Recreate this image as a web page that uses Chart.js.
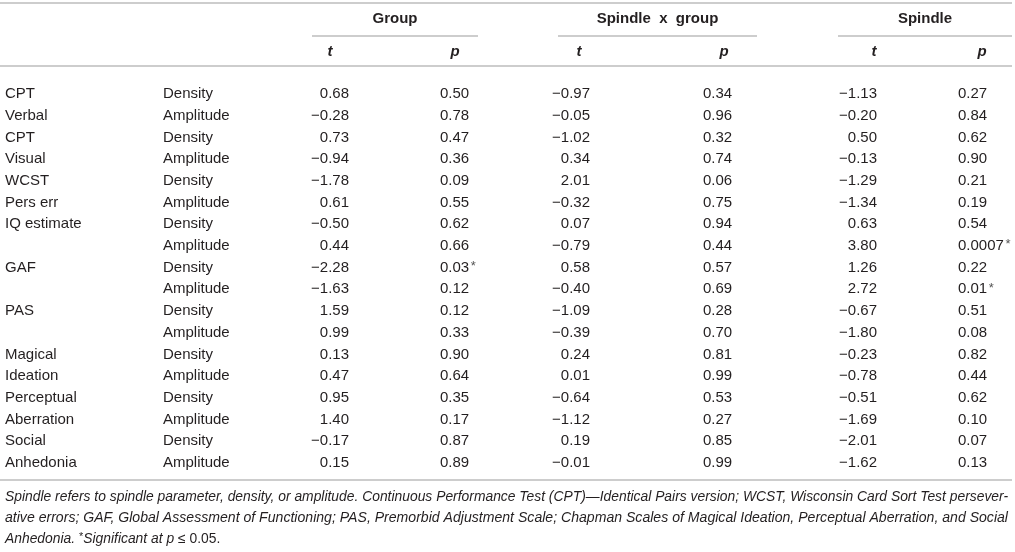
<!DOCTYPE html>
<html>
<head>
<meta charset="utf-8">
<script src="https://cdn.jsdelivr.net/npm/chart.js@4.4.1/dist/chart.umd.min.js"></script>
<style>
  html, body { margin: 0; padding: 0; background: #fff; }
  #wrap { width: 1015px; height: 552px; position: relative; }
</style>
</head>
<body>
<div id="wrap"><canvas id="c"></canvas></div>
<script>
// ---------- DATA ----------
const measures = ["CPT", "Verbal", "CPT", "Visual", "WCST", "Pers err", "IQ estimate", "", "GAF", "", "PAS", "", "Magical", "Ideation", "Perceptual", "Aberration", "Social", "Anhedonia"];
const spindleParam = ["Density", "Amplitude", "Density", "Amplitude", "Density", "Amplitude", "Density", "Amplitude", "Density", "Amplitude", "Density", "Amplitude", "Density", "Amplitude", "Density", "Amplitude", "Density", "Amplitude"];
const groupT = [0.68, -0.28, 0.73, -0.94, -1.78, 0.61, -0.50, 0.44, -2.28, -1.63, 1.59, 0.99, 0.13, 0.47, 0.95, 1.40, -0.17, 0.15];
const groupP = [0.50, 0.78, 0.47, 0.36, 0.09, 0.55, 0.62, 0.66, 0.03, 0.12, 0.12, 0.33, 0.90, 0.64, 0.35, 0.17, 0.87, 0.89];
const sxgT = [-0.97, -0.05, -1.02, 0.34, 2.01, -0.32, 0.07, -0.79, 0.58, -0.40, -1.09, -0.39, 0.24, 0.01, -0.64, -1.12, 0.19, -0.01];
const sxgP = [0.34, 0.96, 0.32, 0.74, 0.06, 0.75, 0.94, 0.44, 0.57, 0.69, 0.28, 0.70, 0.81, 0.99, 0.53, 0.27, 0.85, 0.99];
const spT = [-1.13, -0.20, 0.50, -0.13, -1.29, -1.34, 0.63, 3.80, 1.26, 2.72, -0.67, -1.80, -0.23, -0.78, -0.51, -1.69, -2.01, -1.62];
const spP = [0.27, 0.84, 0.62, 0.90, 0.21, 0.19, 0.54, 0.0007, 0.22, 0.01, 0.51, 0.08, 0.82, 0.44, 0.62, 0.10, 0.07, 0.13];
const groupHeaders = ["Group", "Spindle x group", "Spindle"];
const subHeaders = ["t", "p"];
const sigLevel = 0.05;
const footLines = [
  "Spindle refers to spindle parameter, density, or amplitude. Continuous Performance Test (CPT)\u2014Identical Pairs version; WCST, Wisconsin Card Sort Test persever-",
  "ative errors; GAF, Global Assessment of Functioning; PAS, Premorbid Adjustment Scale; Chapman Scales of Magical Ideation, Perceptual Aberration, and Social"
];

// ---------- LAYOUT / STYLE ----------
const W = 1015, H = 552;
const rowTop = 94, rowPitch = 21.7;
const FONT = "'Liberation Sans', Arial, Helvetica, sans-serif";
const TXT = "#231f20";
const RULE = "#bdbdbd";
const columns = [
  { key: "measure", data: measures, x: 5, align: "left", kind: "text" },
  { key: "param", data: spindleParam, x: 163, align: "left", kind: "text" },
  { key: "groupT", data: groupT, x: 349, align: "right", kind: "t" },
  { key: "groupP", data: groupP, x: 440, align: "left", kind: "p" },
  { key: "sxgT", data: sxgT, x: 590, align: "right", kind: "t" },
  { key: "sxgP", data: sxgP, x: 703, align: "left", kind: "p" },
  { key: "spT", data: spT, x: 877, align: "right", kind: "t" },
  { key: "spP", data: spP, x: 958, align: "left", kind: "p" }
];
const spans = [ { x0: 312, x1: 478 }, { x0: 558, x1: 757 }, { x0: 838, x1: 1012 } ];
const subX = [[330, 455], [579, 724], [874, 982]];

function fmtT(v) { const s = Math.abs(v).toFixed(2); return (v < 0 ? "\u2212" : "") + s; }
function fmtP(v) { return v < 0.005 ? v.toFixed(4) : v.toFixed(2); }

const datasets = columns.map(col => ({
  label: col.key,
  data: col.data.map((v, i) => ({ x: col.x, y: i })),
  pointRadius: 0,
  pointHoverRadius: 0,
  showLine: false
}));

const tablePlugin = {
  id: "tablePlugin",
  afterDatasetsDraw(chart) {
    const ctx = chart.ctx;
    const xs = chart.scales.x;
    ctx.save();
    // rules
    ctx.strokeStyle = RULE;
    ctx.lineWidth = 1.5;
    const hline = (x0, x1, y) => { ctx.beginPath(); ctx.moveTo(xs.getPixelForValue(x0), y); ctx.lineTo(xs.getPixelForValue(x1), y); ctx.stroke(); };
    hline(0, 1012, 3);
    spans.forEach(s => hline(s.x0, s.x1, 36));
    hline(0, 1012, 66);
    hline(0, 1012, 480);

    // headers
    ctx.fillStyle = TXT;
    ctx.textBaseline = "middle";
    ctx.textAlign = "center";
    ctx.font = "bold 15px " + FONT;
    groupHeaders.forEach((h, i) => {
      const cx = xs.getPixelForValue((spans[i].x0 + spans[i].x1) / 2);
      ctx.fillText(h.replace(" x ", "  x  "), cx, 19);
    });
    ctx.font = "italic bold 15px " + FONT;
    subX.forEach(pair => {
      pair.forEach((x, j) => ctx.fillText(subHeaders[j], xs.getPixelForValue(x), 52));
    });

    // cells
    columns.forEach((col, ci) => {
      const meta = chart.getDatasetMeta(ci);
      meta.data.forEach((el, i) => {
        const v = col.data[i];
        let s;
        if (col.kind === "text") s = v;
        else if (col.kind === "t") s = fmtT(v);
        else s = fmtP(v);
        ctx.font = "15px " + FONT;
        ctx.textAlign = col.align;
        ctx.fillStyle = TXT;
        ctx.fillText(s, el.x, el.y);
        if (col.kind === "p" && v <= sigLevel) {
          const w = ctx.measureText(s).width;
          ctx.font = "13px " + FONT;
          ctx.textAlign = "left";
          ctx.fillStyle = "#555";
          ctx.fillText("*", el.x + w + 1.5, el.y - 1);
        }
      });
    });

    // footnote
    ctx.fillStyle = TXT;
    ctx.textAlign = "left";
    ctx.textBaseline = "middle";
    ctx.font = "italic 14px " + FONT;
    const left = 5, right = 1008;
    const w1 = ctx.measureText(footLines[0]).width;
    const sx = (right - left) / w1;
    const footY = [497, 518, 539];
    footLines.forEach((line, i) => {
      const w = ctx.measureText(line).width;
      ctx.save();
      ctx.translate(left, footY[i]);
      ctx.scale((right - left) / w, 1);
      ctx.fillText(line, 0, 0);
      ctx.restore();
    });
    ctx.save();
    ctx.translate(left, footY[2]);
    ctx.scale(sx, 1);
    let cx = 0;
    const seg = (text, font, dy) => { ctx.font = font; ctx.fillText(text, cx, dy || 0); cx += ctx.measureText(text).width; };
    seg("Anhedonia. ", "italic 14px " + FONT);
    seg("*", "11px " + FONT, -2);
    seg("Significant at ", "italic 14px " + FONT);
    seg("p", "italic 14px " + FONT);
    seg(" \u2264 0.05.", "14px " + FONT);
    ctx.restore();

    ctx.restore();
  }
};

new Chart(document.getElementById("c"), {
  type: "scatter",
  data: { datasets },
  options: {
    responsive: true,
    maintainAspectRatio: false,
    animation: false,
    events: [],
    layout: { padding: 0 },
    plugins: { legend: { display: false }, tooltip: { enabled: false } },
    scales: {
      x: { type: "linear", min: 0, max: W, display: false },
      y: { type: "linear", reverse: true, min: -rowTop / rowPitch, max: -rowTop / rowPitch + H / rowPitch, display: false }
    }
  },
  plugins: [tablePlugin]
});
</script>
</body>
</html>
